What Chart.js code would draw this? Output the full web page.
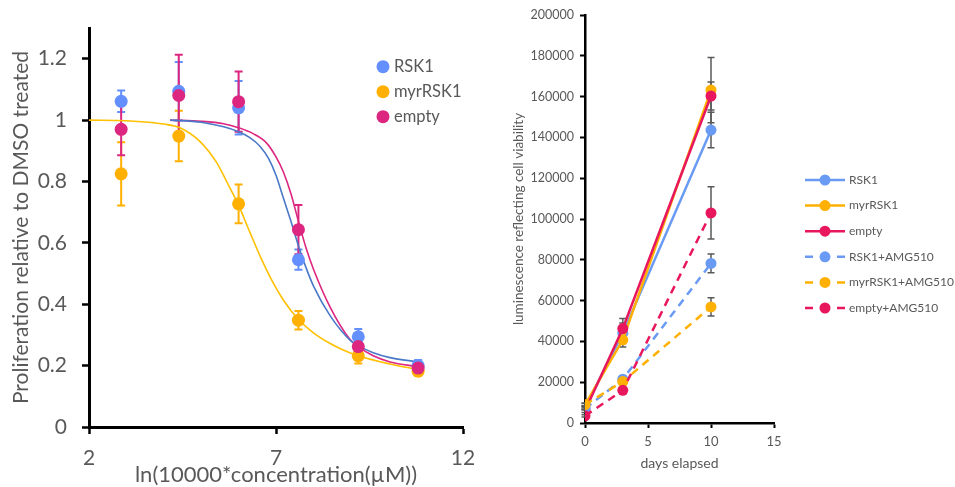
<!DOCTYPE html>
<html>
<head>
<meta charset="utf-8">
<script src="https://cdn.jsdelivr.net/npm/chart.js@4.4.1/dist/chart.umd.min.js"></script>
<style>
  html, body { margin: 0; padding: 0; background: #fff; }
  body { width: 955px; height: 487px; position: relative; overflow: hidden; }
  canvas { position: absolute; top: 0; }
  #dose { left: 0; }
  #growth { left: 480px; }
</style>
</head>
<body>
<canvas id="dose" width="480" height="487"></canvas>
<canvas id="growth" width="475" height="487"></canvas>
<script>
// left panel: dose response, x = ln(10000*concentration)
const doseX = [2.86, 4.4, 6.0, 7.6, 9.2, 10.8];
const rsk1Prolif = [1.061, 1.094, 1.040, 0.545, 0.294, 0.200];
const rsk1ProlifErr = [0.035, 0.095, 0.087, 0.033, 0.025, 0.018];
const myrProlif = [0.825, 0.948, 0.727, 0.348, 0.232, 0.182];
const myrProlifErr = [0.103, 0.082, 0.063, 0.03, 0.025, 0.015];
const emptyProlif = [0.970, 1.080, 1.060, 0.643, 0.262, 0.192];
const emptyProlifErr = [0.085, 0.133, 0.098, 0.08, 0.02, 0.015];

// fitted curves
const myrFitX = [2.0, 3.0, 3.6, 4.0, 4.43, 4.97, 5.41, 5.7, 6.0, 6.3, 6.6, 6.9, 7.2, 7.6, 8.0, 8.45, 8.71, 9.2, 10.05, 10.8];
const myrFitY = [1.0, 0.998, 0.993, 0.987, 0.975, 0.93, 0.862, 0.795, 0.722, 0.635, 0.55, 0.475, 0.413, 0.35, 0.307, 0.272, 0.256, 0.232, 0.205, 0.187];
const rsk1FitX = [4.17, 5.0, 5.6, 6.0, 6.3, 6.57, 6.8, 7.0, 7.2, 7.4, 7.6, 7.8, 8.0, 8.45, 8.98, 9.2, 9.6, 10.05, 10.8];
const rsk1FitY = [1.0, 0.993, 0.978, 0.962, 0.943, 0.915, 0.875, 0.82, 0.745, 0.67, 0.59, 0.52, 0.46, 0.362, 0.283, 0.265, 0.242, 0.226, 0.212];
const emptyFitX = [4.17, 5.0, 5.6, 6.0, 6.4, 6.75, 7.0, 7.2, 7.4, 7.6, 7.8, 8.0, 8.45, 8.98, 9.2, 9.6, 10.05, 10.8];
const emptyFitY = [1.0, 0.996, 0.988, 0.975, 0.955, 0.925, 0.88, 0.83, 0.76, 0.67, 0.585, 0.515, 0.39, 0.285, 0.262, 0.232, 0.212, 0.196];

// right panel: luminescence over days
const days = [0, 3, 10];
const rsk1Lum = [7500, 44000, 143600];
const rsk1LumErr = [800, 5000, 8700];
const myrLum = [9000, 40800, 163200];
const myrLumErr = [800, 3500, 16000];
const emptyLum = [6000, 46300, 160300];
const emptyLumErr = [800, 4900, 6900];
const rsk1AmgLum = [7000, 21500, 78200];
const rsk1AmgLumErr = [600, 1500, 4600];
const myrAmgLum = [9000, 20300, 56900];
const myrAmgLumErr = [600, 1200, 4500];
const emptyAmgLum = [3500, 16000, 103000];
const emptyAmgLumErr = [500, 1500, 12800];

const grey = "#595959";
const font = "Lato";
const blue = "#648FFF", gold = "#FFB000", magenta = "#DC267F";
const blue2 = "#6A9BF4", gold2 = "#FFB000", red2 = "#E8175D";

const pts = (xs, ys) => xs.map((x, i) => ({ x: x, y: ys[i] }));

//error bars drawn under the markers
const errorBars = {
  id: "errorBars",
  beforeDatasetsDraw(chart, args, opts) {
    const { ctx, scales: { x, y } } = chart;
    ctx.save();
    ctx.lineWidth = opts.width;
    chart.data.datasets.forEach((ds) => {
      if (!ds.errors) return;
      ctx.strokeStyle = opts.color || ds.backgroundColor;
      ds.data.forEach((p, j) => {
        const px = x.getPixelForValue(p.x);
        const top = y.getPixelForValue(p.y + ds.errors[j]);
        const bot = y.getPixelForValue(p.y - ds.errors[j]);
        ctx.beginPath();
        ctx.moveTo(px, top); ctx.lineTo(px, bot);
        ctx.moveTo(px - opts.cap, top); ctx.lineTo(px + opts.cap, top);
        ctx.moveTo(px - opts.cap, bot); ctx.lineTo(px + opts.cap, bot);
        ctx.stroke();
      });
    });
    ctx.restore();
  },
};

//legend with fixed placement
const sideLegend = {
  id: "sideLegend",
  afterDraw(chart, args, opts) {
    const ctx = chart.ctx;
    const items = chart.data.datasets.filter((ds) => ds.label);
    ctx.save();
    ctx.font = opts.font;
    ctx.textBaseline = "middle";
    items.forEach((ds, i) => {
      const y = opts.y + i * opts.step;
      const c = ds.backgroundColor;
      if (opts.half) {
        ctx.strokeStyle = c;
        ctx.lineWidth = 2.5;
        ctx.beginPath();
        if (ds.borderDash && ds.borderDash.length) {
          ctx.moveTo(opts.x - opts.half, y); ctx.lineTo(opts.x - opts.half + 8, y);
          ctx.moveTo(opts.x + opts.half - 8, y); ctx.lineTo(opts.x + opts.half, y);
        } else {
          ctx.moveTo(opts.x - opts.half, y); ctx.lineTo(opts.x + opts.half, y);
        }
        ctx.stroke();
      }
      ctx.fillStyle = c;
      ctx.beginPath();
      ctx.arc(opts.x, y, opts.r, 0, Math.PI * 2);
      ctx.fill();
      ctx.fillStyle = grey;
      ctx.fillText(ds.label, opts.textX, y);
    });
    ctx.restore();
  },
};

const axisGrid = (len, w) => ({ drawOnChartArea: false, tickLength: len, tickColor: "#000", tickWidth: w });

new Chart(document.getElementById("dose"), {
  type: "scatter",
  plugins: [errorBars, sideLegend],
  data: {
    datasets: [
      { label: "RSK1", data: pts(doseX, rsk1Prolif), errors: rsk1ProlifErr, backgroundColor: blue, pointRadius: 6.5, pointBorderWidth: 0, order: 3 },
      { label: "myrRSK1", data: pts(doseX, myrProlif), errors: myrProlifErr, backgroundColor: gold, pointRadius: 6.5, pointBorderWidth: 0, order: 2 },
      { label: "empty", data: pts(doseX, emptyProlif), errors: emptyProlifErr, backgroundColor: magenta, pointRadius: 6.5, pointBorderWidth: 0, order: 1 },
      { data: pts(myrFitX, myrFitY), showLine: true, borderColor: "#FFC000", borderWidth: 1.6, pointRadius: 0, cubicInterpolationMode: "monotone", order: 10 },
      { data: pts(rsk1FitX, rsk1FitY), showLine: true, borderColor: "#4A78C8", borderWidth: 1.6, pointRadius: 0, cubicInterpolationMode: "monotone", order: 10 },
      { data: pts(emptyFitX, emptyFitY), showLine: true, borderColor: magenta, borderWidth: 1.6, pointRadius: 0, cubicInterpolationMode: "monotone", order: 10 },
    ],
  },
  options: {
    responsive: false,
    animation: false,
    layout: { padding: { top: 28, right: 17, left: 0, bottom: 0 } },
    plugins: {
      legend: { display: false },
      tooltip: { enabled: false },
      errorBars: { width: 2, cap: 4 },
      sideLegend: { x: 383, textX: 394, y: 66.7, step: 25, r: 6.5, font: "16.5px " + font },
    },
    scales: {
      x: {
        type: "linear", min: 2, max: 12,
        ticks: { stepSize: 5, color: grey, font: { family: font, size: 21 }, padding: 12 },
        grid: axisGrid(7, 2.5),
        border: { color: "#000", width: 3 },
        title: { display: true, text: "ln(10000*concentration(µM))", color: grey, font: { family: font, size: 22 }, padding: { top: 0, bottom: -1 } },
        afterFit: (s) => { s.height = 60; s.paddingLeft = 0; s.paddingRight = 0; },
      },
      y: {
        min: 0, max: 1.3,
        ticks: { stepSize: 0.2, color: grey, font: { family: font, size: 21 }, padding: 15, callback: (v) => String(+v.toFixed(1)) },
        afterBuildTicks: (s) => { s.ticks = s.ticks.filter((t) => t.value < 1.25); },
        grid: axisGrid(7, 2.5),
        border: { color: "#000", width: 3 },
        title: { display: true, text: "Proliferation relative to DMSO treated", color: grey, font: { family: font, size: 21 }, padding: { top: 9, bottom: 0 } },
        afterFit: (s) => { s.width = 89; s.paddingTop = 0; s.paddingBottom = 0; },
      },
    },
  },
});

const lumSeries = [
  ["RSK1", rsk1Lum, rsk1LumErr, blue2, []],
  ["myrRSK1", myrLum, myrLumErr, gold2, []],
  ["empty", emptyLum, emptyLumErr, red2, []],
  ["RSK1+AMG510", rsk1AmgLum, rsk1AmgLumErr, blue2, [8, 6]],
  ["myrRSK1+AMG510", myrAmgLum, myrAmgLumErr, gold2, [8, 6]],
  ["empty+AMG510", emptyAmgLum, emptyAmgLumErr, red2, [8, 6]],
];

new Chart(document.getElementById("growth"), {
  type: "scatter",
  plugins: [errorBars, sideLegend],
  data: {
    datasets: lumSeries.map(([label, vals, errs, color, dash], i) => ({
      label: label,
      data: pts(days, vals),
      errors: errs,
      showLine: true,
      borderColor: color,
      backgroundColor: color,
      borderWidth: 2.5,
      borderDash: dash,
      pointRadius: 5.5,
      pointBorderWidth: 0,
      order: 6 - i,
    })),
  },
  options: {
    responsive: false,
    animation: false,
    layout: { padding: { top: 15, right: 181, left: 0, bottom: 0 } },
    plugins: {
      legend: { display: false },
      tooltip: { enabled: false },
      errorBars: { width: 1.5, cap: 3.5, color: grey },
      sideLegend: { x: 345, half: 20, textX: 369, y: 180, step: 25.6, r: 5.5, font: "12px " + font },
    },
    scales: {
      x: {
        type: "linear", min: 0, max: 15,
        ticks: { stepSize: 5, color: grey, font: { family: font, size: 13 }, padding: 6 },
        grid: axisGrid(5, 2),
        border: { color: "#000", width: 2.5 },
        title: { display: true, text: "days elapsed", color: grey, font: { family: font, size: 14 }, padding: { top: 0, bottom: 15 } },
        afterFit: (s) => { s.height = 64; s.paddingLeft = 0; s.paddingRight = 0; },
      },
      y: {
        min: 0, max: 200000,
        ticks: { stepSize: 20000, color: grey, font: { family: font, size: 12.5 }, padding: 6, callback: (v) => String(v) },
        grid: axisGrid(5, 2),
        border: { color: "#000", width: 2.5 },
        title: { display: true, text: "luminescence reflecting cell viability", color: grey, font: { family: font, size: 13.5 }, padding: { top: 31, bottom: 0 } },
        afterFit: (s) => { s.width = 105; s.paddingTop = 0; s.paddingBottom = 0; },
      },
    },
  },
});
</script>
</body>
</html>
